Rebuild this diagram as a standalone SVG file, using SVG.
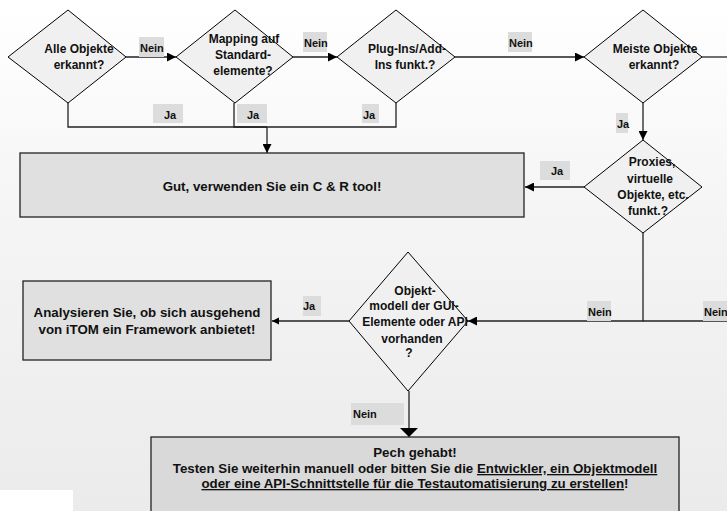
<svg xmlns="http://www.w3.org/2000/svg" width="727" height="511" viewBox="0 0 727 511">
  <defs>
    <linearGradient id="bg" x1="0" y1="0" x2="0" y2="1">
      <stop offset="0" stop-color="#ffffff"/>
      <stop offset="0.45" stop-color="#f4f4f4"/>
      <stop offset="1" stop-color="#ebebeb"/>
    </linearGradient>
    <marker id="arr" markerUnits="userSpaceOnUse" markerWidth="10" markerHeight="9" refX="9" refY="4.5" orient="auto">
      <path d="M0,0 L9,4.5 L0,9 z" fill="#000"/>
    </marker>
    <marker id="arr-sm" markerUnits="userSpaceOnUse" markerWidth="8" markerHeight="8" refX="7" refY="3.5" orient="auto">
      <path d="M0,0 L7,3.5 L0,7 z" fill="#000"/>
    </marker>
    <marker id="arr-wide" markerUnits="userSpaceOnUse" markerWidth="10" markerHeight="20" refX="9" refY="9" orient="auto">
      <path d="M0,0 L9,9 L0,18 z" fill="#000"/>
    </marker>
  </defs>
  <style>
    .dia { fill: #f0f0f0; stroke: #000; stroke-width: 1; }
    .box { fill: #e0e0e0; stroke: #222; stroke-width: 1.3; }
    .box3 { fill: #d9d9d9; stroke: #222; stroke-width: 1.3; }
    .t { font-family: "Liberation Sans", Arial, sans-serif; font-weight: bold; font-size: 12px; fill: #111; text-anchor: middle; }
    .tb { font-family: "Liberation Sans", Arial, sans-serif; font-weight: bold; font-size: 13.3px; fill: #111; text-anchor: middle; }
    .lbl { font-family: "Liberation Sans", Arial, sans-serif; font-weight: bold; font-size: 11px; fill: #111; }
    .lbg { fill: #dcdcdc; }
    .ln { fill: none; stroke: #222; stroke-width: 1.3; }
  </style>

  <!-- page background -->
  <rect x="0" y="0" width="727" height="511" fill="url(#bg)"/>
  <rect x="0" y="490" width="73" height="21" fill="#ffffff"/>

  <!-- connectors -->
  <g id="connectors">
    <line class="ln" x1="126" y1="57" x2="176" y2="57" marker-end="url(#arr)"/>
    <line class="ln" x1="293" y1="57" x2="337" y2="57" marker-end="url(#arr)"/>
    <line class="ln" x1="455" y1="57" x2="584" y2="57" marker-end="url(#arr)"/>
    <line class="ln" x1="702" y1="57" x2="727" y2="57"/>
    <polyline class="ln" points="68,103 68,127 267,127"/>
    <polyline class="ln" points="234,103 234,127 267,127"/>
    <polyline class="ln" points="396,103 396,127 267,127"/>
    <line class="ln" x1="267" y1="127" x2="267" y2="153" marker-end="url(#arr)"/>
    <line class="ln" x1="643" y1="103" x2="643" y2="140" marker-end="url(#arr)"/>
    <line class="ln" x1="584" y1="187" x2="525" y2="187" marker-end="url(#arr)"/>
    <polyline class="ln" points="643,233 643,321 468,321" marker-end="url(#arr)"/>
    <line class="ln" x1="727" y1="321" x2="643" y2="321"/>
    <line class="ln" x1="349" y1="321" x2="272" y2="321" marker-end="url(#arr-sm)"/>
    <line class="ln" x1="409" y1="391" x2="409" y2="437" marker-end="url(#arr-wide)"/>
  </g>

  <!-- connector labels -->
  <g id="labels">
    <rect class="lbg" x="139" y="37" width="25" height="20"/>
    <text class="lbl" x="140" y="52">Nein</text>
    <rect class="lbg" x="303" y="32" width="24" height="20"/>
    <text class="lbl" x="304" y="47">Nein</text>
    <rect class="lbg" x="508" y="32" width="24" height="20"/>
    <text class="lbl" x="509" y="47">Nein</text>
    <rect class="lbg" x="153" y="104" width="30" height="19"/>
    <text class="lbl" x="164" y="119">Ja</text>
    <rect class="lbg" x="237" y="104" width="30" height="19"/>
    <text class="lbl" x="247" y="119">Ja</text>
    <rect class="lbg" x="362" y="104" width="17" height="19"/>
    <text class="lbl" x="363" y="119">Ja</text>
    <rect class="lbg" x="616" y="113" width="12" height="20"/>
    <text class="lbl" x="617" y="128">Ja</text>
    <rect class="lbg" x="540" y="161" width="30" height="19"/>
    <text class="lbl" x="551" y="175">Ja</text>
    <rect class="lbg" x="303" y="296" width="18" height="20"/>
    <text class="lbl" x="303" y="310">Ja</text>
    <rect class="lbg" x="587" y="301" width="24" height="20"/>
    <text class="lbl" x="588" y="316">Nein</text>
    <rect class="lbg" x="703" y="301" width="24" height="20"/>
    <text class="lbl" x="704" y="316">Nein</text>
    <rect class="lbg" x="351" y="403" width="53" height="22"/>
    <text class="lbl" x="353" y="418">Nein</text>
  </g>

  <!-- decision: all objects recognised -->
  <g id="d-alle-objekte">
    <polygon class="dia" points="68,10 126,57 68,103 8,57"/>
    <text class="t" x="79" y="53">Alle Objekte</text>
    <text class="t" x="79" y="69">erkannt?</text>
  </g>

  <g id="d-mapping">
    <polygon class="dia" points="235,10 293,57 235,103 176,57"/>
    <text class="t" x="244" y="43">Mapping auf</text>
    <text class="t" x="243" y="59">Standard-</text>
    <text class="t" x="243" y="75">elemente?</text>
  </g>

  <g id="d-plugins">
    <polygon class="dia" points="396,10 455,57 396,103 337,57"/>
    <text class="t" x="407" y="53">Plug-Ins/Add-</text>
    <text class="t" x="405" y="69">Ins funkt.?</text>
  </g>

  <g id="d-meiste-objekte">
    <polygon class="dia" points="643,10 702,57 643,103 584,57"/>
    <text class="t" x="655" y="53">Meiste Objekte</text>
    <text class="t" x="654" y="69">erkannt?</text>
  </g>

  <g id="d-proxies">
    <polygon class="dia" points="643,140 702,187 643,233 584,187"/>
    <text class="t" x="652" y="166">Proxies,</text>
    <text class="t" x="650" y="183">virtuelle</text>
    <text class="t" x="653" y="199">Objekte, etc.</text>
    <text class="t" x="648" y="215">funkt.?</text>
  </g>

  <g id="d-objektmodell">
    <polygon class="dia" points="408,252 468,321 408,391 349,321"/>
    <text class="t" x="415" y="295">Objekt-</text>
    <text class="t" x="414" y="310">modell der GUI-</text>
    <text class="t" x="415" y="326">Elemente oder API</text>
    <text class="t" x="412" y="343">vorhanden</text>
    <text class="t" x="409" y="357">?</text>
  </g>

  <!-- outcomes -->
  <g id="b-cr-tool">
    <rect class="box" x="20" y="153" width="504" height="64"/>
    <text class="tb" x="272" y="191">Gut, verwenden Sie ein C &amp; R tool!</text>
  </g>

  <g id="b-framework">
    <rect class="box" x="23" y="281" width="248" height="79"/>
    <text class="tb" x="147" y="317">Analysieren Sie, ob sich ausgehend</text>
    <text class="tb" x="147" y="334">von iTOM ein Framework anbietet!</text>
  </g>

  <g id="b-pech">
    <rect class="box3" x="151" y="437" width="528" height="80"/>
    <text class="tb" x="415" y="457">Pech gehabt!</text>
    <text class="tb" x="415" y="473">Testen Sie weiterhin manuell oder bitten Sie die <tspan text-decoration="underline">Entwickler, ein Objektmodell</tspan></text>
    <text class="tb" x="415" y="488"><tspan text-decoration="underline">oder eine API-Schnittstelle für die Testautomatisierung zu erstellen</tspan>!</text>
  </g>
</svg>
